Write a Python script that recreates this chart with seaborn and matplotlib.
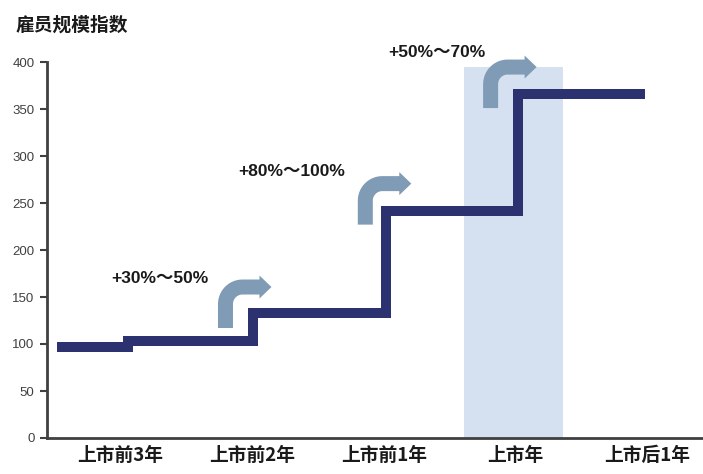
import numpy as np
import matplotlib
matplotlib.use("Agg")
import matplotlib.pyplot as plt
import seaborn as sns
from matplotlib.path import Path
from matplotlib.patches import PathPatch
from matplotlib.transforms import ScaledTranslation

# ---------------- data ----------------
categories = ["上市前3年", "上市前2年", "上市前1年", "上市年", "上市后1年"]
step_edges = [-0.48, 0.06, 1.01, 2.02, 3.02, 3.98]
step_levels = [97, 103, 133, 241, 366]
highlight_span = [2.61, 3.36]
highlight_top = 395
growth_labels = ["+30%～50%", "+80%～100%", "+50%～70%"]
label_x = [0.30, 1.30, 2.40]
label_y = [170, 283, 410]
arrow_x = [0.80, 1.86, 2.81]
arrow_y = [117, 227, 351]
yticks = [0, 50, 100, 150, 200, 250, 300, 350, 400]

LINE = "#2c3170"
ARROW = "#7f9bb5"
SHADE = "#d5e1f0"
AXC = "#404040"

sns.set_style("white")
plt.rcParams["font.family"] = ["Liberation Sans", "Noto Sans CJK SC", "DejaVu Sans"]

fig = plt.figure(figsize=(7.03, 4.74), dpi=100)
ax = fig.add_axes([47 / 703, 1 - 438 / 474, 1 - 47 / 703, (438 - 62) / 474])

# highlight column
ax.bar(x=[(highlight_span[0] + highlight_span[1]) / 2], height=[highlight_top],
       width=highlight_span[1] - highlight_span[0], color=SHADE, zorder=0,
       linewidth=0)

# step line
sns.lineplot(x=step_edges, y=step_levels + [step_levels[-1]], ax=ax,
             drawstyle="steps-post", color=LINE, linewidth=7.2, estimator=None,
             sort=False, solid_joinstyle="miter", solid_capstyle="butt", zorder=3)


def bent_arrow_path(rise=41, run=46, w=15, R=17, L=12, H=23):
    """Outline (pixels) of an up-then-right bent arrow, origin at stem bottom centre."""
    hw = w / 2
    verts = [(-hw, 0), (-hw, rise - R)]
    th = np.linspace(np.pi, np.pi / 2, 20)
    cx, cy = R, rise - R
    verts += [(cx + (R + hw) * np.cos(t), cy + (R + hw) * np.sin(t)) for t in th]
    verts += [(run - L, rise + hw), (run - L, rise + H / 2), (run, rise),
              (run - L, rise - H / 2), (run - L, rise - hw)]
    verts += [(cx + (R - hw) * np.cos(t), cy + (R - hw) * np.sin(t)) for t in th[::-1]]
    verts += [(hw, 0), (-hw, 0)]
    verts = np.array(verts) / 100.0  # pixels -> inches at dpi 100
    codes = [Path.MOVETO] + [Path.LINETO] * (len(verts) - 2) + [Path.CLOSEPOLY]
    return Path(verts, codes)


for xa, ya in zip(arrow_x, arrow_y):
    tr = fig.dpi_scale_trans + ScaledTranslation(xa, ya, ax.transData)
    ax.add_patch(PathPatch(bent_arrow_path(), transform=tr, facecolor=ARROW,
                           edgecolor="none", zorder=4, clip_on=False))

for txt, xt, yt in zip(growth_labels, label_x, label_y):
    ax.text(xt, yt, txt, ha="center", va="center", fontsize=12.5,
            fontweight="bold", color="#1a1a1a", clip_on=False, zorder=5)

ax.set_xlim(-0.553, 4.42)
ax.set_ylim(0, 400)
ax.set_yticks(yticks)
ax.set_yticklabels([str(v) for v in yticks], fontsize=9.5, color=AXC)
ax.set_xticks(range(len(categories)))
ax.set_xticklabels(categories, fontsize=13.5, fontweight="bold",
                   family=["Noto Sans CJK SC"], color="#1a1a1a")
ax.tick_params(axis="y", direction="out", length=5, width=1.5, color=AXC, pad=4, left=True)
ax.tick_params(axis="x", length=0, pad=6)
for s in ["top", "right"]:
    ax.spines[s].set_visible(False)
for s in ["left", "bottom"]:
    ax.spines[s].set_color(AXC)
    ax.spines[s].set_linewidth(2)
ax.set_xlabel("")
ax.set_ylabel("")

fig.text(16 / 703, 1 - 25 / 474, "雇员规模指数", ha="left", va="center",
         fontsize=13.5, fontweight="bold", family=["Noto Sans CJK SC"], color="#1a1a1a")

fig.savefig("out.png", dpi=100)
